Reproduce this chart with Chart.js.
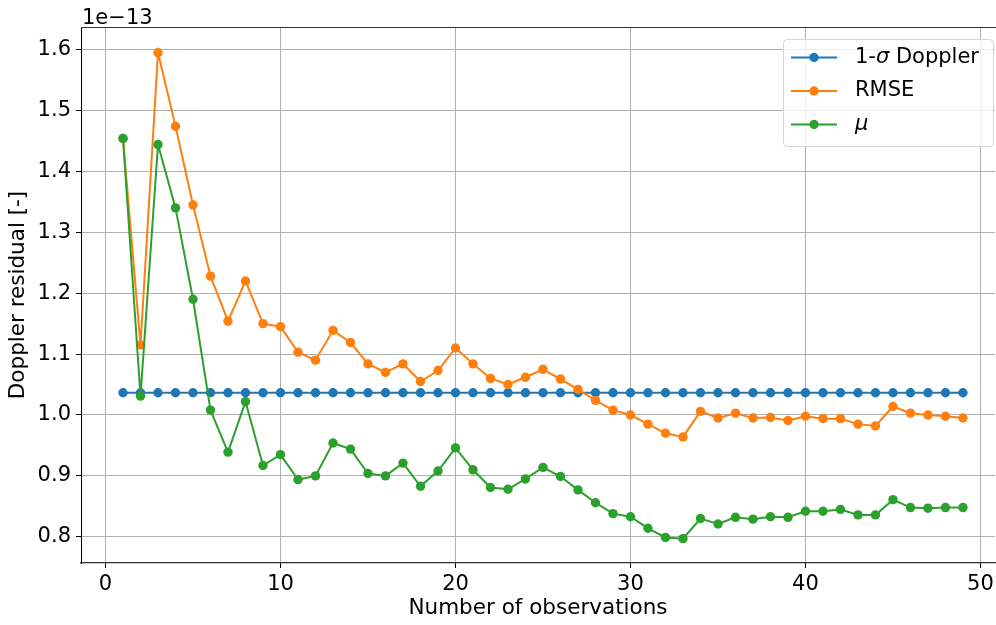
<!DOCTYPE html>
<html>
<head>
<meta charset="utf-8">
<title>Doppler residual</title>
<script src="https://cdn.jsdelivr.net/npm/chart.js@4/dist/chart.umd.min.js"></script>
<style>
  html, body { margin: 0; padding: 0; background: #fff; }
  canvas { display: block; }
</style>
</head>
<body>
<canvas id="residualChart" width="996" height="625"></canvas>
<script>
// residuals are in units of 1e-13 (shown as the axis offset text)
const observations = [1, 2, 3, 4, 5, 6, 7, 8, 9, 10, 11, 12, 13, 14, 15, 16, 17, 18, 19, 20,
  21, 22, 23, 24, 25, 26, 27, 28, 29, 30, 31, 32, 33, 34, 35, 36, 37, 38, 39, 40,
  41, 42, 43, 44, 45, 46, 47, 48, 49];
const sigmaDoppler = [1.0365, 1.0365, 1.0365, 1.0365, 1.0365, 1.0365, 1.0365, 1.0365, 1.0365, 1.0365,
  1.0365, 1.0365, 1.0365, 1.0365, 1.0365, 1.0365, 1.0365, 1.0365, 1.0365, 1.0365,
  1.0365, 1.0365, 1.0365, 1.0365, 1.0365, 1.0365, 1.0365, 1.0365, 1.0365, 1.0365,
  1.0365, 1.0365, 1.0365, 1.0365, 1.0365, 1.0365, 1.0365, 1.0365, 1.0365, 1.0365,
  1.0365, 1.0365, 1.0365, 1.0365, 1.0365, 1.0365, 1.0365, 1.0365, 1.0365];
const rmse = [1.454, 1.115, 1.595, 1.474, 1.345, 1.228, 1.154, 1.220, 1.150, 1.145,
  1.103, 1.090, 1.139, 1.119, 1.084, 1.070, 1.084, 1.055, 1.073, 1.110,
  1.084, 1.060, 1.050, 1.062, 1.075, 1.059, 1.042, 1.024, 1.008, 1.000,
  0.985, 0.970, 0.964, 1.006, 0.995, 1.003, 0.995, 0.996, 0.991, 0.998,
  0.994, 0.994, 0.985, 0.982, 1.014, 1.003, 1.000, 0.998, 0.995];
const mu = [1.454, 1.031, 1.444, 1.340, 1.190, 1.008, 0.939, 1.022, 0.917, 0.935,
  0.894, 0.900, 0.954, 0.944, 0.904, 0.900, 0.921, 0.883, 0.908, 0.946,
  0.910, 0.881, 0.878, 0.895, 0.914, 0.899, 0.877, 0.856, 0.838, 0.833,
  0.814, 0.799, 0.797, 0.830, 0.821, 0.832, 0.829, 0.833, 0.832, 0.842,
  0.842, 0.845, 0.836, 0.836, 0.861, 0.848, 0.847, 0.848, 0.848];

const xTicks = [0, 10, 20, 30, 40, 50];
const yTicks = [0.8, 0.9, 1.0, 1.1, 1.2, 1.3, 1.4, 1.5, 1.6];

// legend labels as [text, italic] pieces
const seriesNames = [
  [['1-', false], ['σ', true], [' Doppler', false]],
  [['RMSE', false]],
  [['μ', true]],
];
const seriesColors = ['#1f77b4', '#ff7f0e', '#2ca02c'];

const FONT = '"DejaVu Sans", sans-serif';

function points(values) {
  return observations.map((x, i) => ({ x, y: values[i] }));
}

function lineDataset(label, values, color, order) {
  return {
    label,
    data: points(values),
    borderColor: color,
    backgroundColor: color,
    borderWidth: 2,
    pointRadius: 4.7,
    pointBorderWidth: 0,
    pointBackgroundColor: color,
    tension: 0,
    order,
  };
}

// top spine, offset text and legend box
const decorations = {
  id: 'decorations',
  afterDraw(chart) {
    const { ctx, chartArea: a } = chart;
    ctx.save();
    ctx.strokeStyle = '#333';
    ctx.lineWidth = 1.2;
    ctx.beginPath();
    ctx.moveTo(a.left, a.top + 0.5);
    ctx.lineTo(chart.width, a.top + 0.5);
    ctx.stroke();

    ctx.fillStyle = '#000';
    ctx.font = `21px ${FONT}`;
    ctx.textBaseline = 'alphabetic';
    ctx.textAlign = 'left';
    ctx.fillText('1e\u221213', a.left + 1, a.top - 3);

    // legend
    const bx = 783, by = 39, bw = 210, bh = 107;
    ctx.beginPath();
    ctx.roundRect(bx + 0.5, by + 0.5, bw, bh, 4);
    ctx.fillStyle = 'rgba(255,255,255,0.8)';
    ctx.fill();
    ctx.strokeStyle = '#d6d6d6';
    ctx.lineWidth = 1;
    ctx.stroke();
    seriesNames.forEach((parts, i) => {
      const y = 57.5 + i * 33.5;
      ctx.strokeStyle = seriesColors[i];
      ctx.lineWidth = 2;
      ctx.beginPath();
      ctx.moveTo(791, y);
      ctx.lineTo(837, y);
      ctx.stroke();
      ctx.fillStyle = seriesColors[i];
      ctx.beginPath();
      ctx.arc(814, y, 4.7, 0, Math.PI * 2);
      ctx.fill();
      ctx.fillStyle = '#000';
      ctx.textBaseline = 'middle';
      let tx = 855;
      parts.forEach(([text, italic]) => {
        ctx.font = `${italic ? 'italic ' : ''}21px ${FONT}`;
        ctx.fillText(text, tx, y);
        tx += ctx.measureText(text).width;
      });
    });
    ctx.restore();
  }
};

new Chart(document.getElementById('residualChart'), {
  type: 'line',
  data: {
    datasets: [
      lineDataset('1-σ Doppler', sigmaDoppler, seriesColors[0], 2),
      lineDataset('RMSE', rmse, seriesColors[1], 1),
      lineDataset('μ', mu, seriesColors[2], 0),
    ],
  },
  options: {
    responsive: false,
    animation: false,
    devicePixelRatio: 1,
    layout: { autoPadding: false, padding: { top: 27, right: 1, left: 0, bottom: 0 } },
    plugins: { legend: { display: false }, tooltip: { enabled: false } },
    scales: {
      x: {
        type: 'linear',
        min: -1.4,
        max: 50.83,
        afterFit(scale) {
          scale.height = 62;
          scale.paddingLeft = 0;
          scale.paddingRight = 0;
        },
        afterBuildTicks(scale) { scale.ticks = xTicks.map(value => ({ value })); },
        grid: { color: '#b0b0b0', lineWidth: 1, tickColor: '#000', tickLength: 5 },
        border: { display: true, color: '#333', width: 1.2 },
        ticks: { color: '#000', font: { family: FONT, size: 21 }, padding: 4, maxRotation: 0 },
        title: {
          display: true,
          text: 'Number of observations',
          color: '#000',
          font: { family: FONT, size: 21.5 },
          padding: { top: 0, bottom: 4 },
        },
      },
      y: {
        type: 'linear',
        min: 0.757,
        max: 1.637,
        afterFit(scale) {
          scale.width = 81;
          scale.paddingTop = 0;
          scale.paddingBottom = 0;
        },
        afterBuildTicks(scale) { scale.ticks = yTicks.map(value => ({ value })); },
        grid: { color: '#b0b0b0', lineWidth: 1, tickColor: '#000', tickLength: 5 },
        border: { display: true, color: '#000', width: 1 },
        ticks: {
          color: '#000',
          font: { family: FONT, size: 21 },
          padding: 5,
          callback: v => v.toFixed(1),
        },
        title: {
          display: true,
          text: 'Doppler residual [-]',
          color: '#000',
          font: { family: FONT, size: 21.5 },
          padding: { top: 6, bottom: 0 },
        },
      },
    },
  },
  plugins: [decorations],
});
</script>
</body>
</html>
